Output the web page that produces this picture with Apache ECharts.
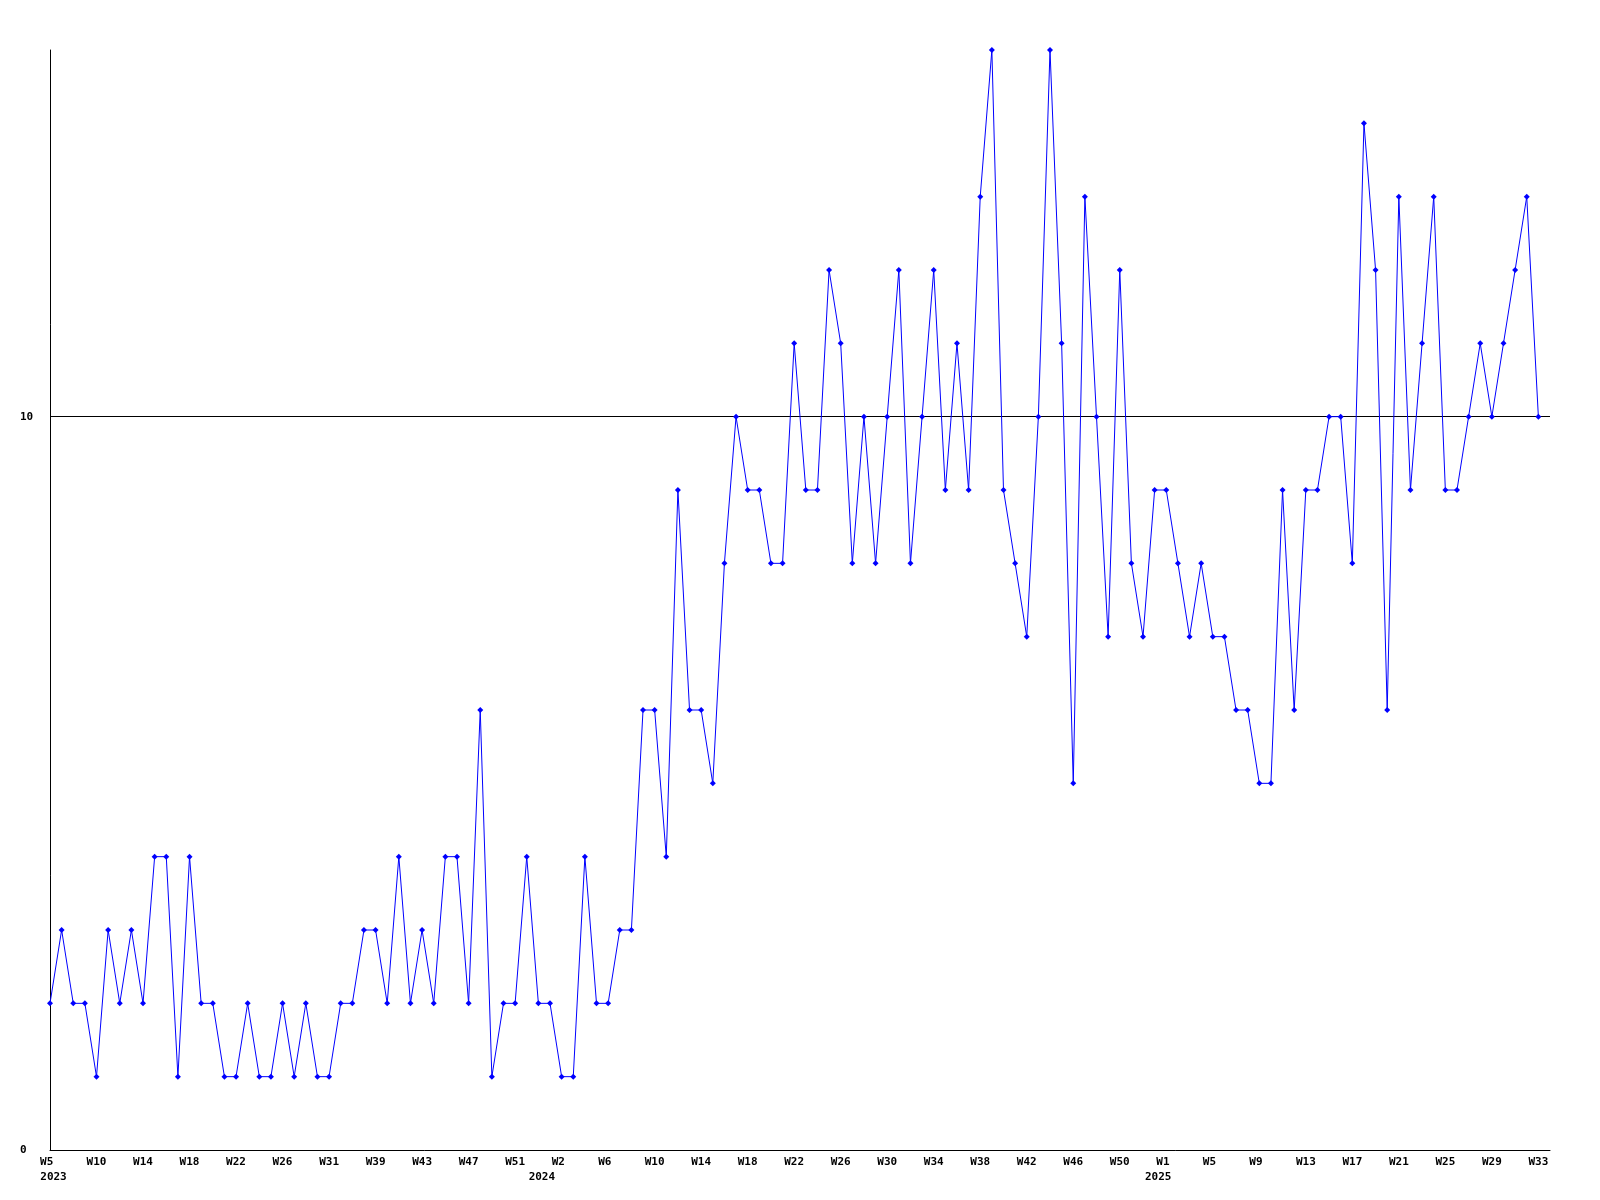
<!DOCTYPE html>
<html>
<head>
<meta charset="utf-8">
<script src="https://cdn.jsdelivr.net/npm/echarts@6/dist/echarts.min.js"></script>
<style>
html,body{margin:0;padding:0;background:#fff;}
#chart{width:1600px;height:1200px;}
</style>
</head>
<body>
<div id="chart"></div>
<script>
// Week label of each point
const weeks = [
  'W5','W6','W7','W8','W10','W11','W12','W13','W14','W15','W16','W17','W18','W19','W20','W21',
  'W22','W23','W24','W25','W26','W27','W28','W29','W31','W33','W35','W37','W39','W40','W41','W42',
  'W43','W44','W45','W46','W47','W48','W49','W50','W51','W52',
  'W1','W1','W2','W3','W4','W5','W6','W7','W8','W9','W10','W11','W12','W13','W14','W15',
  'W16','W17','W18','W19','W20','W21','W22','W23','W24','W25','W26','W27','W28','W29','W30','W31',
  'W32','W33','W34','W35','W36','W37','W38','W39','W40','W41','W42','W43','W44','W45','W46','W47',
  'W48','W49','W50','W51','W52',
  'W1','W1','W2','W3','W4','W5','W6','W7','W8','W9','W10','W11','W12','W13','W14','W15',
  'W16','W17','W18','W19','W20','W21','W22','W23','W24','W25','W26','W27','W28','W29','W30','W31',
  'W32','W33'
];
// Year of each point
const years = [
  2023,2023,2023,2023,2023,2023,2023,2023,2023,2023,2023,2023,2023,2023,2023,2023,
  2023,2023,2023,2023,2023,2023,2023,2023,2023,2023,2023,2023,2023,2023,2023,2023,
  2023,2023,2023,2023,2023,2023,2023,2023,2023,2023,
  2024,2024,2024,2024,2024,2024,2024,2024,2024,2024,2024,2024,2024,2024,2024,2024,
  2024,2024,2024,2024,2024,2024,2024,2024,2024,2024,2024,2024,2024,2024,2024,2024,
  2024,2024,2024,2024,2024,2024,2024,2024,2024,2024,2024,2024,2024,2024,2024,2024,
  2024,2024,2024,2024,2024,
  2025,2025,2025,2025,2025,2025,2025,2025,2025,2025,2025,2025,2025,2025,2025,2025,
  2025,2025,2025,2025,2025,2025,2025,2025,2025,2025,2025,2025,2025,2025,2025,2025,
  2025,2025
];
// Weekly values
const values = [
  2,3,2,2,1,3,2,3,2,4,4,1,4,2,2,1,
  1,2,1,1,2,1,2,1,1,2,2,3,3,2,4,2,
  3,2,4,4,2,6,1,2,2,4,
  2,2,1,1,4,2,2,3,3,6,6,4,9,6,6,5,
  8,10,9,9,8,8,11,9,9,12,11,8,10,8,10,12,
  8,10,12,9,11,9,13,15,9,8,7,10,15,11,5,13,
  10,7,12,8,7,
  9,9,8,7,8,7,7,6,6,5,5,9,6,9,9,10,
  10,8,14,12,6,13,9,11,13,9,9,10,11,10,11,12,
  13,10
];
// Y axis range
const yMin = 0, yMax = 15, yStep = 10;

const font = 'DejaVu Sans Mono';
const chart = echarts.init(document.getElementById('chart'), null, {renderer: 'canvas'});
chart.setOption({
  animation: false,
  backgroundColor: '#ffffff',
  grid: {left: 50, right: 50, top: 50, bottom: 50, containLabel: false},
  xAxis: [
    {
      type: 'category',
      data: weeks,
      boundaryGap: false,
      max: weeks.length,
      axisLine: {show: true, lineStyle: {color: '#000', width: 1}},
      axisTick: {show: false},
      splitLine: {show: false},
      axisLabel: {
        interval: 3,
        margin: 7,
        color: '#000',
        fontFamily: font,
        fontWeight: 'bold',
        fontSize: 11,
        align: 'center',
        formatter: function (v) { return v && v.length < 3 ? v + ' ' : (v || ''); }
      }
    },
    {
      type: 'category',
      data: weeks,
      position: 'bottom',
      boundaryGap: false,
      max: weeks.length,
      axisLine: {show: false},
      axisTick: {show: false},
      splitLine: {show: false},
      axisLabel: {
        interval: function (i) { return i < years.length && (i === 0 || years[i] !== years[i - 1]); },
        margin: 22,
        color: '#000',
        fontFamily: font,
        fontWeight: 'bold',
        fontSize: 11,
        align: 'center',
        padding: [0, 0, 0, 7],
        formatter: function (v, i) { return i < years.length ? String(years[i]) : ''; }
      }
    }
  ],
  yAxis: {
    type: 'value',
    min: yMin,
    max: yMax,
    interval: yStep,
    axisLine: {show: true, lineStyle: {color: '#000', width: 1}},
    axisTick: {show: false},
    splitLine: {show: true, showMinLine: false, showMaxLine: false, lineStyle: {color: '#000', width: 1}},
    axisLabel: {
      showMaxLabel: false,
      margin: 30,
      align: 'left',
      color: '#000',
      fontFamily: font,
      fontWeight: 'bold',
      fontSize: 11,
      padding: [2, 0, 0, 0]
    }
  },
  series: [{
    type: 'line',
    data: values,
    xAxisIndex: 0,
    symbol: 'diamond',
    symbolSize: 6,
    showAllSymbol: true,
    lineStyle: {color: '#0000ff', width: 1},
    itemStyle: {color: '#0000ff'},
    emphasis: {disabled: true}
  }]
});
</script>
</body>
</html>
